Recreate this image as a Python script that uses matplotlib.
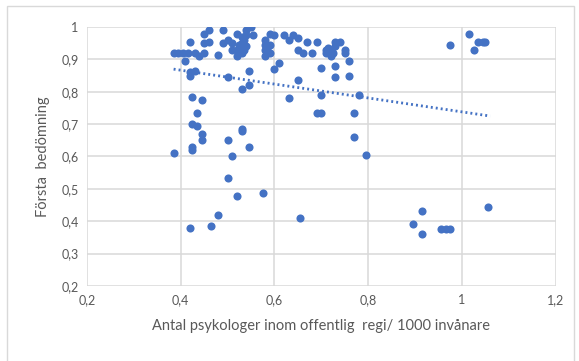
import matplotlib.pyplot as plt
import matplotlib.patches as patches
import numpy as np
from matplotlib.ticker import FuncFormatter, MultipleLocator

# psykologer per 1000 invånare vs första bedömning
x_vals = [
    0.385, 0.395, 0.405, 0.415, 0.41, 0.42, 0.43, 0.44, 0.45,
    0.45, 0.46, 0.45, 0.46, 0.42, 0.42, 0.43,
    0.49, 0.49, 0.48, 0.50, 0.51, 0.52, 0.52, 0.52, 0.53, 0.53, 0.54, 0.54, 0.54,
    0.53, 0.55, 0.555, 0.51, 0.535, 0.535, 0.525,
    0.58, 0.58, 0.58, 0.59, 0.59, 0.59, 0.60, 0.60, 0.61, 0.58, 0.585,
    0.62, 0.63, 0.64, 0.65, 0.65, 0.66, 0.67, 0.68, 0.69, 0.71, 0.71, 0.72, 0.72,
    0.73, 0.74, 0.73, 0.75, 0.75, 0.76, 0.715, 0.725,
    0.50, 0.545, 0.53, 0.545, 0.63, 0.65, 0.70, 0.73, 0.73, 0.76, 0.70, 0.78,
    0.425, 0.445, 0.435, 0.425, 0.435, 0.445, 0.445, 0.425, 0.425, 0.385,
    0.50, 0.53, 0.53, 0.545, 0.51, 0.50, 0.52, 0.575, 0.48, 0.42, 0.465, 0.655,
    0.69, 0.70, 0.77, 0.77, 0.795,
    0.895, 0.915, 0.915, 0.955, 0.965, 0.975, 1.055,
    0.975, 1.015, 1.025, 1.035, 1.045, 1.05,
]
y_vals = [
    0.92, 0.92, 0.92, 0.92, 0.895, 0.955, 0.92, 0.91, 0.92,
    0.98, 0.99, 0.95, 0.955, 0.86, 0.85, 0.865,
    0.99, 0.95, 0.915, 0.96, 0.95, 0.98, 0.91, 0.93, 0.97, 0.95, 0.99, 0.975, 0.94,
    0.92, 1.0, 0.975, 0.93, 0.96, 0.93, 0.945,
    0.96, 0.93, 0.91, 0.98, 0.945, 0.92, 0.975, 0.87, 0.89, 0.945, 0.935,
    0.975, 0.96, 0.975, 0.965, 0.93, 0.92, 0.955, 0.92, 0.955, 0.93, 0.92, 0.91, 0.93,
    0.955, 0.955, 0.94, 0.93, 0.92, 0.895, 0.935, 0.92,
    0.845, 0.865, 0.81, 0.82, 0.78, 0.835, 0.875, 0.88, 0.845, 0.85, 0.79, 0.79,
    0.785, 0.775, 0.735, 0.70, 0.695, 0.67, 0.65, 0.63, 0.62, 0.61,
    0.65, 0.685, 0.68, 0.63, 0.60, 0.535, 0.478, 0.488, 0.42, 0.38, 0.385, 0.41,
    0.735, 0.735, 0.735, 0.66, 0.605,
    0.39, 0.43, 0.36, 0.375, 0.375, 0.375, 0.445,
    0.945, 0.98, 0.93, 0.955, 0.955, 0.955,
]

# linjär trendlinje, avläst ur originalet
trend_x = [0.385, 1.06]
trend_y = [0.87, 0.725]

plt.rcParams['font.family'] = ['Lato', 'DejaVu Sans']

fig = plt.figure(figsize=(5.79, 3.61), dpi=100)
ax = fig.add_axes([0.150, 0.208, 0.810, 0.717])

blue = '#4472C4'
grid_col = '#d9d9d9'
text_col = '#595959'

ax.scatter(x_vals, y_vals, s=34, color=blue, zorder=3, linewidths=0)
ax.plot(trend_x, trend_y, color=blue, lw=2, linestyle=(0, (0.7, 1.1)), zorder=2)

ax.set_xlim(0.2, 1.2)
ax.set_ylim(0.2, 1.0)
ax.xaxis.set_major_locator(MultipleLocator(0.2))
ax.yaxis.set_major_locator(MultipleLocator(0.1))

def comma(v, pos):
    s = ('%.1f' % v).rstrip('0').rstrip('.')
    return s.replace('.', ',')

ax.xaxis.set_major_formatter(FuncFormatter(comma))
ax.yaxis.set_major_formatter(FuncFormatter(comma))

ax.grid(True, color=grid_col, lw=1.1)
ax.set_axisbelow(True)
for sp in ax.spines.values():
    sp.set_visible(False)
ax.tick_params(length=0, colors=text_col, labelsize=9, pad=6)

ax.set_xlabel('Antal psykologer inom offentlig  regi/ 1000 invånare',
              color=text_col, fontsize=10.5, labelpad=9)
ax.set_ylabel('Första  bedömning', color=text_col, fontsize=10.5, labelpad=8)

# ram runt diagrammet
fig.patches.append(patches.Rectangle((0.012, -0.01), 0.98, 0.993, transform=fig.transFigure,
                                     fill=False, edgecolor=grid_col, lw=1))

fig.savefig('out.png', dpi=100)
